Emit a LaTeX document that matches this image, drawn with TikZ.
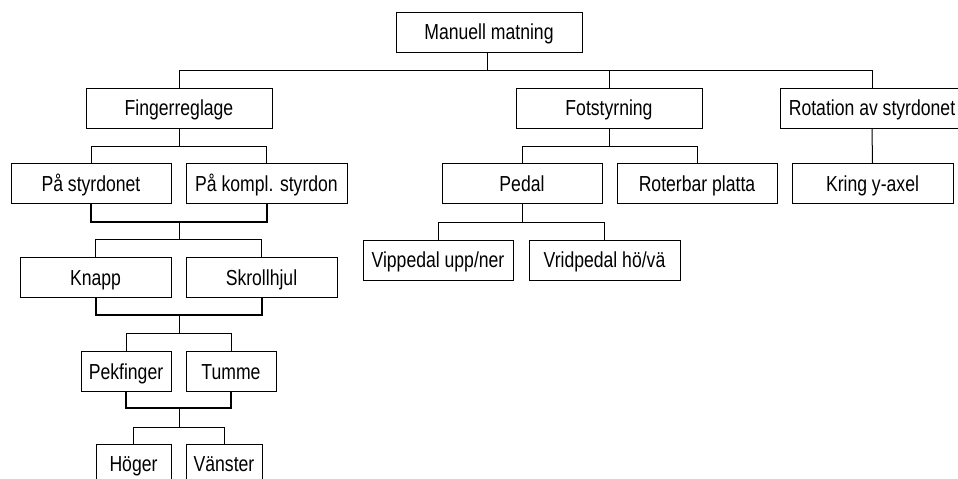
\documentclass[tikz,border=0pt]{standalone}
\usepackage{fontspec}
\setmainfont{Liberation Sans}[FakeStretch=0.81]
\begin{document}
\begin{tikzpicture}[x=0.75pt,y=-0.75pt,
  box/.style={draw, line width=0.75pt, inner sep=0pt, minimum height=30pt,
    text height=11.67pt, text depth=0pt, font=\fontsize{16.3}{19}\selectfont},
  bw/.style={minimum width={#1*0.75pt}},
  link/.style={line width=0.75pt},
  joinline/.style={line width=1.5pt}]
\useasboundingbox (0,0) rectangle (958,479);
\clip (0,0) rectangle (958,479);
% boxes
\node[box,bw=186] (man) at (489,32) {Manuell matning};
\node[box,bw=186] (fin) at (179,108) {Fingerreglage};
\node[box,bw=186] (fot) at (609,108) {Fotstyrning};
\node[box,bw=184] (rot) at (872,108) {Rotation av styrdonet};
\node[box,bw=160] (pas) at (91,183.5) {På styrdonet};
\node[box,bw=161] (pak) at (266.5,183.5) {På kompl. styrdon};
\node[box,bw=160] (ped) at (522,183.5) {Pedal};
\node[box,bw=160] (rbp) at (697,183.5) {Roterbar platta};
\node[box,bw=161] (kry) at (872.5,183.5) {Kring y-axel};
\node[box,bw=151] (kna) at (95.5,277.5) {Knapp};
\node[box,bw=151] (skr) at (261.5,277.5) {Skrollhjul};
\node[box,bw=150] (vip) at (438,260) {Vippedal upp/ner};
\node[box,bw=151] (vri) at (604.5,260) {Vridpedal hö/vä};
\node[box,bw=90] (pek) at (126,371.5) {Pekfinger};
\node[box,bw=90] (tum) at (231,371.5) {Tumme};
\node[box,bw=75] (hog) at (133.5,464) {Höger};
\node[box,bw=76] (van) at (224,464) {Vänster};
% junction coordinates
\coordinate (b0) at (487,70);
\coordinate (b1) at (179,146);
\coordinate (b2) at (609,146);
\coordinate (j1) at (179,222);
\coordinate (b3) at (179,239);
\coordinate (j2) at (179,315);
\coordinate (b4) at (179,333);
\coordinate (j3) at (179,408);
\coordinate (b5) at (179,427);
\coordinate (b6) at (522,222);
% top level
\draw[link] (man.south -| b0) -- (b0);
\draw[link] (fin.north) -- (fin.north |- b0) -- (rot.north |- b0) -- (rot.north);
\draw[link] (fot.north) -- (fot.north |- b0);
% Fingerreglage
\draw[link] (fin.south) -- (b1);
\draw[link] (pas.north) -- (pas.north |- b1) -- (pak.north |- b1) -- (pak.north);
\draw[joinline] (pas.south) -- (pas.south |- j1) -- (pak.south |- j1) -- (pak.south);
\draw[link] (j1) -- (b3);
\draw[link] (kna.north) -- (kna.north |- b3) -- (skr.north |- b3) -- (skr.north);
\draw[joinline] (kna.south) -- (kna.south |- j2) -- (skr.south |- j2) -- (skr.south);
\draw[link] (j2) -- (b4);
\draw[link] (pek.north) -- (pek.north |- b4) -- (tum.north |- b4) -- (tum.north);
\draw[joinline] (pek.south) -- (pek.south |- j3) -- (tum.south |- j3) -- (tum.south);
\draw[link] (j3) -- (b5);
\draw[link] (hog.north) -- (hog.north |- b5) -- (van.north |- b5) -- (van.north);
% Fotstyrning
\draw[link] (fot.south) -- (b2);
\draw[link] (ped.north) -- (ped.north |- b2) -- (rbp.north |- b2) -- (rbp.north);
\draw[link] (ped.south) -- (b6);
\draw[link] (vip.north) -- (vip.north |- b6) -- (vri.north |- b6) -- (vri.north);
% Rotation
\draw[link] (rot.south) -- (kry.north);
\end{tikzpicture}
\end{document}
